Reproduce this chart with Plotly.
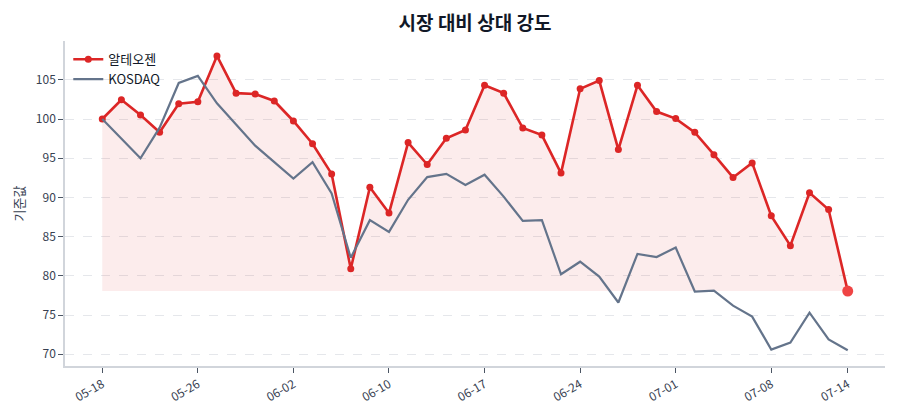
import plotly.graph_objects as go

dates = ["05-18","05-19","05-20","05-21","05-22","05-26","05-27","05-28","05-29","06-01",
         "06-02","06-04","06-05","06-08","06-09","06-10","06-11","06-12","06-15","06-16",
         "06-17","06-18","06-19","06-22","06-23","06-24","06-25","06-26","06-29","06-30",
         "07-01","07-02","07-03","07-06","07-07","07-08","07-09","07-10","07-13","07-14"]

alteogen = [100.0, 102.45, 100.5, 98.3, 101.95, 102.2, 108.05, 103.3, 103.2, 102.3,
            99.75, 96.85, 93.0, 80.9, 91.3, 88.0, 97.0, 94.2, 97.55, 98.6,
            104.3, 103.3, 98.85, 97.95, 93.1, 103.85, 104.9, 96.1, 104.3, 100.95,
            100.05, 98.3, 95.45, 92.55, 94.4, 87.65, 83.85, 90.6, 88.45, 78.05]

kosdaq = [100.0, 97.5, 95.0, 98.9, 104.6, 105.5, 102.0, 99.3, 96.6, 94.5,
          92.4, 94.5, 90.5, 82.3, 87.1, 85.6, 89.7, 92.6, 93.0, 91.6,
          92.9, 90.1, 87.0, 87.1, 80.2, 81.8, 79.9, 76.6, 82.8, 82.4,
          83.6, 78.0, 78.1, 76.2, 74.8, 70.6, 71.5, 75.3, 71.9, 70.5]

y_ticks = [70, 75, 80, 85, 90, 95, 100, 105]
x_tick_labels = ["05-18","05-26","06-02","06-10","06-17","06-24","07-01","07-08","07-14"]

RED = "#dc2626"
GRAY = "#64748b"
FONT = "Noto Sans CJK KR"

baseline = [alteogen[-1]] * len(dates)
xi = list(range(len(dates)))

fig = go.Figure()
fig.add_trace(go.Scatter(x=xi, y=baseline, mode="lines", line=dict(width=0),
                         showlegend=False, hoverinfo="skip"))
fig.add_trace(go.Scatter(x=xi, y=alteogen, mode="lines", line=dict(width=0),
                         fill="tonexty", fillcolor="rgba(220,38,38,0.085)",
                         showlegend=False, hoverinfo="skip"))
fig.add_trace(go.Scatter(x=xi, y=alteogen, mode="lines+markers", name="알테오젠",
                         line=dict(color=RED, width=2.6),
                         marker=dict(color=RED, size=7)))
fig.add_trace(go.Scatter(x=xi, y=kosdaq, mode="lines", name="KOSDAQ",
                         line=dict(color=GRAY, width=2.2)))
fig.add_trace(go.Scatter(x=[xi[-1]], y=[alteogen[-1]], mode="markers",
                         marker=dict(color="#ef4444", size=11),
                         showlegend=False, hoverinfo="skip"))

tickvals = [dates.index(d) for d in x_tick_labels]

fig.update_layout(
    width=900, height=420,
    margin=dict(l=65, r=15, t=41, b=54),
    paper_bgcolor="white", plot_bgcolor="white",
    font=dict(family=FONT, color="#374151", size=12),
    title=dict(text="<b>시장 대비 상대 강도</b>", x=0.5, xanchor="center",
               xref="paper", y=0.945, yanchor="middle",
               font=dict(family=FONT, size=19, color="#111827")),
    legend=dict(x=0.004, y=0.99, xanchor="left", yanchor="top",
                traceorder="normal",
                bgcolor="rgba(255,255,255,0)", font=dict(size=13, color="#111827"),
                tracegroupgap=2),
    showlegend=True,
)
fig.update_xaxes(
    range=[-1.95, 40.95], tickvals=tickvals, ticktext=x_tick_labels,
    tickangle=-30, ticks="outside", ticklen=5, tickcolor="#4b5563",
    showgrid=False, zeroline=False,
    showline=True, linecolor="#d1d5db", linewidth=1.5,
    tickfont=dict(size=12, color="#374151"),
)
fig.update_yaxes(
    range=[68.5, 109.95], tickvals=y_ticks, ticks="outside", ticklen=5,
    tickcolor="#4b5563",
    showgrid=True, gridcolor="#e5e7eb", griddash="dash", gridwidth=1,
    zeroline=False, showline=True, linecolor="#d1d5db", linewidth=1.5,
    title=dict(text="기준값", font=dict(size=13, color="#374151"), standoff=8),
    tickfont=dict(size=12, color="#374151"),
)

fig.write_html("out.html")
